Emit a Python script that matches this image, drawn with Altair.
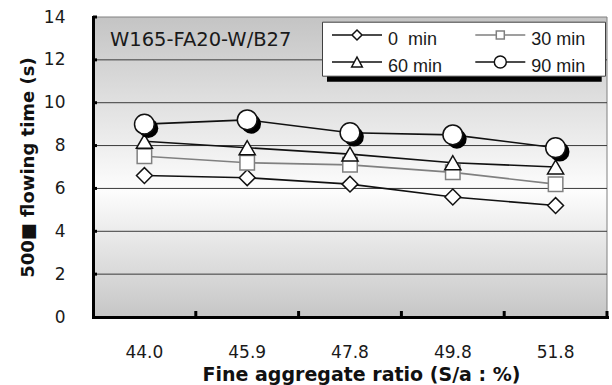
import altair as alt
import pandas as pd

# ---- data ----
sa_ratio = ["44.0", "45.9", "47.8", "49.8", "51.8"]
series_names = ["0\u00a0\u00a0min", "30 min", "60 min", "90 min"]
t0 = [6.6, 6.5, 6.2, 5.6, 5.2]
t30 = [7.5, 7.2, 7.1, 6.75, 6.2]
t60 = [8.2, 7.9, 7.6, 7.2, 7.0]
t90 = [9.0, 9.2, 8.6, 8.5, 7.9]
y_ticks = [0, 2, 4, 6, 8, 10, 12, 14]
grid_values = [2, 4, 6, 8, 10, 12]
annotation = "W165-FA20-W/B27"

series_values = [t0, t30, t60, t90]
rows = []
for name, vals in zip(series_names, series_values):
    for cat, v in zip(sa_ratio, vals):
        rows.append({"sa": cat, "series": name, "value": v})
df = pd.DataFrame(rows)
grid_df = pd.DataFrame({"value": grid_values})
ytick_df = pd.DataFrame({"value": y_ticks[1:]})
xtick_df = pd.DataFrame({"sa": sa_ratio[1:]})
xend_df = pd.DataFrame({"sa": sa_ratio[-1:]})

# ---- styles ----
stroke_colors = ["#111111", "#808080", "#111111", "#111111"]
marker_shapes = ["diamond", "square", "triangle-up", "circle"]
marker_sizes = [250, 210, 260, 390]

# legend symbols: line + marker; invisible move-tos set the entry width
B = "M-5.708,0.717M16.825,0.717"
o = 0.717  # vertical shift of drawn parts (units of 6px)
def yy(v):
    return f"{v + o:.3f}"
legend_paths = [
    B + f"M-4.167,{yy(0)}H-0.833M0.833,{yy(0)}H4.167M0,{yy(-0.833)}L0.833,{yy(0)}L0,{yy(0.833)}L-0.833,{yy(0)}Z",
    B + f"M-4.167,{yy(0)}H-0.667M0.667,{yy(0)}H4.167M-0.667,{yy(-0.667)}H0.667V{yy(0.667)}H-0.667Z",
    B + f"M-4.167,{yy(0)}H-0.445M0.445,{yy(0)}H4.167M0,{yy(-0.833)}L0.89,{yy(0.833)}H-0.89Z",
    B + f"M-4.167,{yy(0)}H-1M1,{yy(0)}H4.167M-1,{yy(0)}A1,1,0,1,1,1,{yy(0)}A1,1,0,1,1,-1,{yy(0)}Z",
]

W, H = 514, 300

x_scale = alt.Scale(type="band", paddingInner=0, paddingOuter=0)
x_axis = alt.Axis(
    title="Fine aggregate ratio (S/a : %)",
    grid=False, ticks=False, labelAngle=0,
    domainColor="black", domainWidth=3, domainCap="square",
    labelFont="DejaVu Sans", labelFontSize=17, labelColor="#1a1a1a",
    labelPadding=27,
    titleFont="DejaVu Sans", titleFontSize=19, titleFontWeight="bold",
    titleColor="#111111", titleX=268, titleY=63, titleBaseline="alphabetic",
    zindex=1,
)
X = alt.X("sa:N", sort=sa_ratio, scale=x_scale, axis=x_axis)
Y = alt.Y(
    "value:Q",
    scale=alt.Scale(domain=[0, 14], nice=False, zero=True),
    axis=alt.Axis(
        title="500\u25a0 flowing time (s)",
        values=y_ticks, grid=False, ticks=False,
        domainColor="black", domainWidth=3, domainCap="square",
        labelFont="DejaVu Sans", labelFontSize=17, labelColor="#1a1a1a",
        labelPadding=28,
        titleFont="DejaVu Sans", titleFontSize=18, titleFontWeight="bold",
        titleColor="#111111", titleAngle=270, titleX=-64.5, titleY=150,
        titleBaseline="middle", titleAlign="center",
        zindex=1,
    ),
)

gradient = {
    "gradient": "linear",
    "x1": 0, "y1": 0, "x2": 0, "y2": 1,
    "stops": [
        {"offset": 0, "color": "#c4c4c4"},
        {"offset": 0.58, "color": "#fdfdfd"},
        {"offset": 1, "color": "#c6c6c6"},
    ],
}

bg = alt.Chart(alt.Data(values=[{}])).mark_rect(
    fill=gradient, stroke="#808080", strokeWidth=1
).encode(x=alt.value(0), x2=alt.value(W), y=alt.value(0), y2=alt.value(H))

grid = alt.Chart(grid_df).mark_rule(color="#3a3a3a", strokeWidth=1).encode(y=Y)

# small inward tick marks
yticks = alt.Chart(ytick_df).mark_rule(color="black", strokeWidth=3).encode(
    y=Y, x=alt.value(0), x2=alt.value(4)
)
xticks = alt.Chart(xtick_df).mark_rule(color="black", strokeWidth=3).encode(
    x=alt.X("sa:N", sort=sa_ratio, scale=x_scale, axis=x_axis, bandPosition=0),
    y=alt.value(H - 6), y2=alt.value(H),
)
xend = alt.Chart(xend_df).mark_rule(color="black", strokeWidth=3).encode(
    x=alt.X("sa:N", sort=sa_ratio, scale=x_scale, axis=x_axis, bandPosition=1),
    y=alt.value(H - 6), y2=alt.value(H),
)

layers = [bg, grid, yticks, xticks, xend]
base = alt.Chart(df)
for name, c in zip(series_names, stroke_colors):
    layers.append(
        base.transform_filter(alt.datum.series == name)
        .mark_line(color=c, strokeWidth=1.6)
        .encode(x=X, y=Y)
    )
for name, c, shp, sz in zip(series_names, stroke_colors, marker_shapes, marker_sizes):
    if shp == "circle":
        layers.append(
            base.transform_filter(alt.datum.series == name)
            .mark_point(shape="circle", size=sz, filled=True, color="black",
                        opacity=1, xOffset=4, yOffset=4)
            .encode(x=X, y=Y)
        )
    layers.append(
        base.transform_filter(alt.datum.series == name)
        .mark_point(shape=shp, size=sz, filled=True, fill="white", stroke=c,
                    strokeWidth=1.5, opacity=1)
        .encode(x=X, y=Y)
    )

note = alt.Chart(alt.Data(values=[{}])).mark_text(
    text=annotation, align="left", baseline="middle",
    font="DejaVu Sans", fontSize=19.5, color="#1a1a1a"
).encode(x=alt.value(17), y=alt.value(23))

legend_shadow = alt.Chart(alt.Data(values=[{}])).mark_rect(color="black").encode(
    x=alt.value(234), x2=alt.value(508.7), y=alt.value(10.7), y2=alt.value(64.7)
)

leg = alt.Legend(
    orient="none", legendX=229, legendY=4.7, columns=2, direction="horizontal",
    title=None,
    symbolSize=144, symbolStrokeWidth=1.5, symbolOffset=26, labelOffset=22,
    symbolOpacity=1, symbolFillColor="white",
    labelFont="Liberation Sans", labelFontSize=18, labelColor="#1a1a1a",
    labelBaseline="top",
    padding=0, rowPadding=0, columnPadding=1.3,
    strokeColor="#404040", fillColor="white",
)
legend_layer = base.transform_filter("false").mark_point(filled=False).encode(
    color=alt.Color("series:N", scale=alt.Scale(domain=series_names, range=stroke_colors), legend=leg),
    shape=alt.Shape("series:N", scale=alt.Scale(domain=series_names, range=legend_paths), legend=leg),
)

layers += [note, legend_shadow, legend_layer]

chart = alt.layer(*layers).properties(
    width=W, height=H,
    padding={"left": 93, "top": 17, "right": 5, "bottom": 68},
    autosize=alt.AutoSizeParams(type="none"),
    background="white",
).configure_view(stroke=None)

chart.save("out.html", embed_options={"renderer": "svg", "actions": False})
